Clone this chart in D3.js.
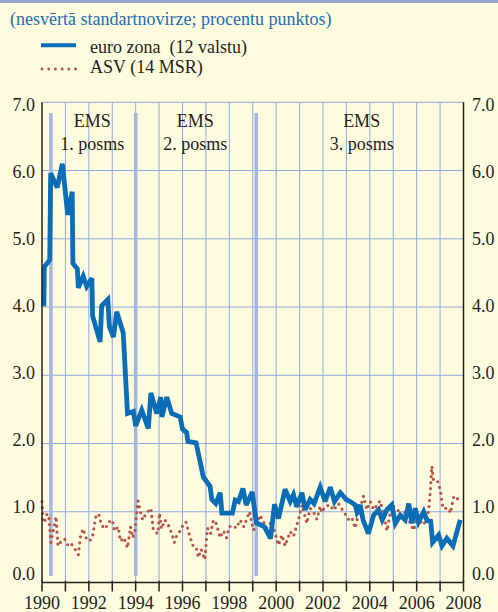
<!DOCTYPE html>
<meta charset="utf-8">
<style>
body { margin: 0; background: #fefbdf; }
svg { display: block; font-family: "Liberation Serif", "Times New Roman", serif; }
text { fill: #231f20; }
</style>
<body>
<svg id="chart" width="498" height="612"></svg>
<script src="https://cdn.jsdelivr.net/npm/d3@7"></script>
<script>
// euro zona (12 valstu) - blue line
var euroYears = [1990.08, 1990.10, 1990.33, 1990.37, 1990.65, 1990.87, 1991.10, 1991.29, 1991.32, 1991.51,
  1991.55, 1991.76, 1991.91, 1992.13, 1992.16, 1992.48, 1992.55, 1992.81, 1992.88, 1993.05,
  1993.19, 1993.47, 1993.65, 1993.90, 1994.00, 1994.26, 1994.54, 1994.65, 1994.90, 1995.07,
  1995.12, 1995.33, 1995.54, 1995.90, 1996.00, 1996.18, 1996.23, 1996.58, 1996.89, 1997.18,
  1997.25, 1997.42, 1997.61, 1997.68, 1998.13, 1998.25, 1998.39, 1998.58, 1998.72, 1998.98,
  1999.15, 1999.50, 1999.76, 1999.93, 2000.10, 2000.38, 2000.60, 2000.74, 2000.88, 2001.10,
  2001.24, 2001.45, 2001.62, 2001.88, 2002.09, 2002.31, 2002.49, 2002.74, 2002.99, 2003.16,
  2003.38, 2003.45, 2003.59, 2003.71, 2003.94, 2004.16, 2004.37, 2004.53, 2004.73, 2004.94,
  2005.09, 2005.30, 2005.51, 2005.66, 2005.80, 2005.94, 2006.08, 2006.30, 2006.44, 2006.60,
  2006.68, 2006.94, 2007.08, 2007.29, 2007.55, 2007.86];
var euroValues = [4.01, 4.59, 4.69, 5.96, 5.75, 6.10, 5.35, 5.69, 4.64, 4.56,
  4.28, 4.45, 4.30, 4.42, 3.87, 3.49, 4.02, 4.11, 3.71, 3.56,
  3.93, 3.62, 2.44, 2.47, 2.26, 2.49, 2.22, 2.74, 2.44, 2.68,
  2.39, 2.68, 2.44, 2.39, 2.21, 2.16, 2.03, 2.01, 1.51, 1.37,
  1.18, 1.12, 1.28, 0.98, 0.98, 1.17, 1.15, 1.34, 1.10, 1.29,
  0.84, 0.78, 0.61, 1.11, 0.90, 1.33, 1.15, 1.25, 1.07, 1.28,
  1.03, 1.18, 1.12, 1.36, 1.15, 1.36, 1.15, 1.28, 1.18, 1.15,
  1.10, 1.00, 1.10, 0.88, 0.68, 0.95, 1.03, 0.88, 1.03, 1.10,
  0.83, 0.95, 0.88, 1.12, 0.83, 1.05, 0.85, 1.00, 0.87, 0.86,
  0.55, 0.66, 0.50, 0.61, 0.50, 0.88];

// ASV (14 MSR) - dotted line
var usYears = [1990.00, 1990.04, 1990.10, 1990.22, 1990.30, 1990.38, 1990.48, 1990.60, 1990.68, 1990.82,
  1990.97, 1991.12, 1991.25, 1991.40, 1991.55, 1991.65, 1991.75, 1991.88, 1992.02, 1992.15,
  1992.30, 1992.42, 1992.55, 1992.70, 1992.85, 1993.00, 1993.10, 1993.25, 1993.35, 1993.50,
  1993.65, 1993.78, 1993.88, 1993.97, 1994.05, 1994.10, 1994.18, 1994.30, 1994.45, 1994.65,
  1994.75, 1994.85, 1994.95, 1995.02, 1995.10, 1995.25, 1995.40, 1995.55, 1995.65, 1995.75,
  1995.90, 1996.05, 1996.15, 1996.30, 1996.45, 1996.58, 1996.68, 1996.80, 1996.95, 1997.00,
  1997.07, 1997.20, 1997.32, 1997.45, 1997.60, 1997.75, 1997.88, 1998.00, 1998.15, 1998.30,
  1998.46, 1998.62, 1998.86, 1999.03, 1999.31, 1999.60, 1999.81, 2000.10, 2000.24, 2000.38,
  2000.60, 2000.74, 2000.95, 2001.10, 2001.31, 2001.45, 2001.59, 2001.74, 2001.88, 2001.95,
  2002.09, 2002.31, 2002.45, 2002.66, 2002.88, 2003.09, 2003.23, 2003.37, 2003.52, 2003.73,
  2003.87, 2004.02, 2004.16, 2004.44, 2004.60, 2004.73, 2004.94, 2005.15, 2005.37, 2005.51,
  2005.70, 2005.87, 2006.08, 2006.22, 2006.44, 2006.52, 2006.58, 2006.65, 2006.72, 2006.90,
  2007.01, 2007.12, 2007.37, 2007.44, 2007.58, 2007.72, 2007.86];
var usValues = [1.15, 0.88, 0.84, 0.97, 0.90, 0.55, 0.72, 0.93, 0.50, 0.57,
  0.60, 0.50, 0.53, 0.46, 0.37, 0.65, 0.75, 0.62, 0.57, 0.62,
  0.93, 0.97, 0.80, 0.75, 0.85, 0.88, 0.72, 0.78, 0.57, 0.62,
  0.47, 0.78, 0.62, 0.72, 1.00, 1.16, 1.03, 0.88, 0.98, 1.05,
  0.75, 0.70, 0.68, 0.98, 0.75, 0.88, 0.80, 0.68, 0.55, 0.65,
  0.72, 0.82, 0.85, 0.65, 0.50, 0.48, 0.33, 0.45, 0.30, 0.50,
  0.76, 0.68, 0.88, 0.82, 0.62, 0.72, 0.62, 0.78, 0.80, 0.76,
  0.88, 0.78, 1.00, 0.73, 0.95, 0.76, 0.86, 0.51, 0.66, 0.50,
  0.71, 0.64, 0.88, 1.10, 0.83, 1.05, 1.00, 0.89, 1.08, 0.99,
  1.08, 1.10, 1.02, 1.12, 1.00, 0.89, 0.92, 0.76, 0.98, 1.23,
  1.03, 1.15, 1.03, 1.16, 0.95, 0.72, 1.09, 1.05, 0.93, 1.00,
  0.85, 0.73, 0.98, 0.81, 0.86, 1.05, 1.30, 1.67, 1.45, 1.44,
  1.32, 1.05, 1.05, 0.98, 1.22, 1.18, 1.25];

var yTicks = [0, 1, 2, 3, 4, 5, 6, 7];
var yearTicks = d3.range(1990, 2009);
var yearLabels = d3.range(1990, 2009, 2);
var stageLines = [1990.38, 1994.0, 1999.15];   // EMS stage boundaries
var stageLabels = [
  {x: 1992.15, lines: ["EMS", "1. posms"]},
  {x: 1996.55, lines: ["EMS", "2. posms"]},
  {x: 2003.65, lines: ["EMS", "3. posms"]}
];

var svg = d3.select("#chart");
var x = d3.scaleLinear().domain([1990, 2008]).range([42, 463.5]),
    y = d3.scaleLinear().domain([0, 7]).range([580, 102.3]),
    yLab = d3.scaleLinear().domain([0, 7]).range([580, 110.5]);

// background + top band
svg.append("rect").attr("width", 498).attr("height", 612).attr("fill", "#fefbdf");
svg.append("rect").attr("width", 498).attr("height", 3).attr("fill", "#97a5cf");

// title + legend
svg.append("text").attr("x", 10).attr("y", 24.5).style("font-size", "18px")
  .style("fill", "#1f6db3").text("(nesvērtā standartnovirze; procentu punktos)");
svg.append("line").attr("x1", 41).attr("x2", 76).attr("y1", 45.3).attr("y2", 45.3)
  .attr("stroke", "#0a6db5").attr("stroke-width", 4);
svg.append("text").attr("x", 90).attr("y", 52.5).style("font-size", "18px")
  .style("white-space", "pre").text("euro zona  (12 valstu)");
svg.append("line").attr("x1", 42).attr("x2", 76).attr("y1", 69).attr("y2", 69)
  .attr("stroke", "#b5564c").attr("stroke-width", 3)
  .attr("stroke-dasharray", "0,6.7").attr("stroke-linecap", "round");
svg.append("text").attr("x", 90).attr("y", 73).style("font-size", "18px").text("ASV (14 MSR)");

// grid
var grid = svg.append("g").attr("stroke", "#8fabe0").attr("stroke-width", 1);
grid.selectAll(".h").data(yTicks.filter(function (d) { return d > 0; })).enter().append("line")
  .attr("x1", x(1990)).attr("x2", x(2008))
  .attr("y1", function (d) { return y(d); }).attr("y2", function (d) { return y(d); });
grid.selectAll(".v").data(yearTicks.slice(1, -1)).enter().append("line")
  .attr("x1", function (d) { return x(d); }).attr("x2", function (d) { return x(d); })
  .attr("y1", y(7)).attr("y2", y(0));

// stage separators
svg.selectAll(".stage").data(stageLines).enter().append("line")
  .attr("x1", function (d) { return x(d); }).attr("x2", function (d) { return x(d); })
  .attr("y1", 113).attr("y2", 576)
  .attr("stroke", "#a2b6de").attr("stroke-width", 3.5);

// stage labels
stageLabels.forEach(function (s) {
  s.lines.forEach(function (t, i) {
    svg.append("text").attr("x", x(s.x)).attr("y", 127.3 + i * 22.7)
      .attr("text-anchor", "middle").style("font-size", "18px").text(t);
  });
});

// series
var line = d3.line()
  .x(function (d) { return x(d[0]); })
  .y(function (d) { return y(d[1]); });

svg.append("path").datum(d3.zip(usYears, usValues)).attr("d", line)
  .attr("fill", "none").attr("stroke", "#b5564c").attr("stroke-width", 3.2)
  .attr("stroke-dasharray", "0,6").attr("stroke-linecap", "round");

svg.append("path").datum(d3.zip(euroYears, euroValues)).attr("d", line)
  .attr("fill", "none").attr("stroke", "#0a6db5").attr("stroke-width", 4.8)
  .attr("stroke-linejoin", "miter").attr("stroke-miterlimit", 3);

// axes frame
var axisG = svg.append("g").attr("stroke", "#231f20").attr("stroke-width", 1.5);
axisG.append("line").attr("x1", x(1990)).attr("x2", x(1990)).attr("y1", y(7)).attr("y2", 582.5);
axisG.append("line").attr("x1", x(2008)).attr("x2", x(2008)).attr("y1", y(7)).attr("y2", 582.5);
axisG.append("line").attr("x1", x(1990)).attr("x2", x(2008)).attr("y1", 582.5).attr("y2", 582.5);
axisG.selectAll(".tick").data(yearTicks).enter().append("line")
  .attr("x1", function (d) { return x(d); }).attr("x2", function (d) { return x(d); })
  .attr("y1", 580.5).attr("y2", 591.5);

// y labels both sides
svg.selectAll(".yl").data(yTicks).enter().append("text")
  .attr("x", 35).attr("y", function (d) { return yLab(d); })
  .attr("text-anchor", "end").style("font-size", "18px")
  .text(function (d) { return d.toFixed(1); });
svg.selectAll(".yr").data(yTicks).enter().append("text")
  .attr("x", 472).attr("y", function (d) { return yLab(d); })
  .style("font-size", "18px")
  .text(function (d) { return d.toFixed(1); });

// year labels
svg.selectAll(".xl").data(yearLabels).enter().append("text")
  .attr("x", function (d) { return x(d); }).attr("y", 609)
  .attr("text-anchor", "middle").style("font-size", "18px")
  .text(function (d) { return d; });
</script>
</body>
